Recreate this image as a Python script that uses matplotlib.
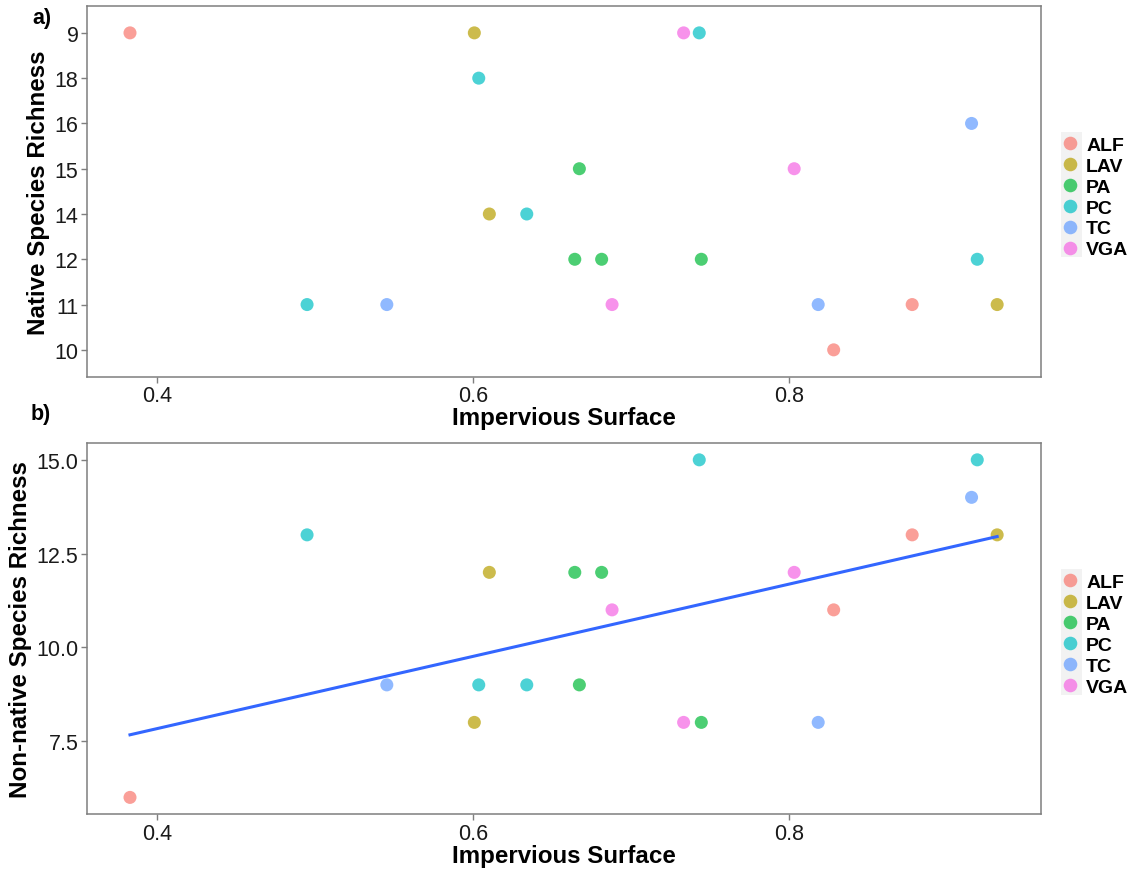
import numpy as np
import matplotlib
matplotlib.use('Agg')
import matplotlib.pyplot as plt
from matplotlib.lines import Line2D
from matplotlib.patches import Rectangle

plt.rcParams['font.family'] = ['Liberation Sans', 'DejaVu Sans']

# site data: group, impervious surface, native richness, non-native richness
groups = ['ALF', 'LAV', 'VGA', 'PC', 'PC', 'TC', 'PA', 'VGA', 'LAV', 'PC', 'PA',
          'PA', 'PA', 'PC', 'PC', 'TC', 'VGA', 'TC', 'ALF', 'LAV', 'ALF']
impervious = [0.383, 0.601, 0.7335, 0.7434, 0.6038, 0.9158, 0.6675, 0.8035, 0.6105, 0.6342, 0.6646,
              0.6816, 0.7447, 0.9194, 0.4951, 0.5456, 0.6882, 0.8187, 0.8782, 0.932, 0.8285]
native = ['9', '9', '9', '9', '18', '16', '15', '15', '14', '14', '12',
          '12', '12', '12', '11', '11', '11', '11', '11', '11', '10']
nonnative = [6, 8, 8, 15, 9, 14, 9, 12, 12, 9, 12,
             12, 8, 15, 13, 9, 11, 8, 13, 13, 11]

levels = ['ALF', 'LAV', 'PA', 'PC', 'TC', 'VGA']
colors = ['#F8766D', '#B79F00', '#00BA38', '#00BFC4', '#619CFF', '#F564E3']
# native richness treated as a factor (string sorted, like R)
native_levels = sorted(set(native))

groups = np.array(groups)
impervious = np.array(impervious)
native = np.array(native)
nonnative = np.array(nonnative)
native_pos = np.array([native_levels.index(v) + 1 for v in native])

fig = plt.figure(figsize=(11.41, 8.7), dpi=100)
ax1 = fig.add_axes([0.076, 0.5655, 0.836, 0.4268])
ax2 = fig.add_axes([0.076, 0.0629, 0.836, 0.4268])

grey = '#7F7F7F'


def style(ax, ylab):
    for s in ax.spines.values():
        s.set_color(grey)
        s.set_linewidth(1.1)
    ax.tick_params(axis='both', direction='out', length=4, width=1, color=grey,
                   labelsize=15.5, labelcolor='#1a1a1a', pad=2)
    ax.set_xlim(0.3556, 0.9595)
    ax.set_xticks([0.4, 0.6, 0.8])
    ax.set_xticklabels(['0.4', '0.6', '0.8'])
    ax.set_xlabel('Impervious Surface', fontsize=17.4, fontweight='bold', labelpad=0)
    ax.set_ylabel(ylab, fontsize=17.4, fontweight='bold', labelpad=3)


for g, c in zip(levels, colors):
    m = groups == g
    ax1.scatter(impervious[m], native_pos[m], s=88, color=c, alpha=0.7, edgecolors='none', zorder=3)
    ax2.scatter(impervious[m], nonnative[m], s=88, color=c, alpha=0.7, edgecolors='none', zorder=3)

ax1.set_ylim(0.4, len(native_levels) + 0.6)
ax1.set_yticks(range(1, len(native_levels) + 1))
ax1.set_yticklabels(native_levels)
style(ax1, 'Native Species Richness')

# linear fit
k, b = np.polyfit(impervious, nonnative, 1)
xs = np.array([impervious.min(), impervious.max()])
ax2.plot(xs, k * xs + b, color='#3366FF', lw=2.2, zorder=4)
ax2.set_ylim(5.55, 15.45)
ax2.set_yticks([7.5, 10.0, 12.5, 15.0])
ax2.set_yticklabels(['7.5', '10.0', '12.5', '15.0'])
style(ax2, 'Non-native Species Richness')

handles = [Line2D([], [], marker='o', ls='none', color=c, alpha=0.7, markersize=9.8,
                  markeredgewidth=0) for c in colors]
for ax in (ax1, ax2):
    # grey legend key background
    ax.add_patch(Rectangle((1.0213, 0.322), 0.0217, 0.338, transform=ax.transAxes,
                           facecolor='#F2F2F2', edgecolor='none', clip_on=False, zorder=0))
    leg = ax.legend(handles, levels, loc='center left', bbox_to_anchor=(1.013, 0.484),
                    frameon=False, prop={'weight': 'bold', 'size': 14},
                    handlelength=1.0, handletextpad=0.3, labelspacing=0.17,
                    borderaxespad=0)
    for t in leg.get_texts():
        t.set_color('#000000')

fig.text(0.0368, 0.979, 'a)', fontsize=15.5, fontweight='bold', ha='center', va='center')
fig.text(0.036, 0.523, 'b)', fontsize=15.5, fontweight='bold', ha='center', va='center')

fig.savefig('out.png', dpi=100)
